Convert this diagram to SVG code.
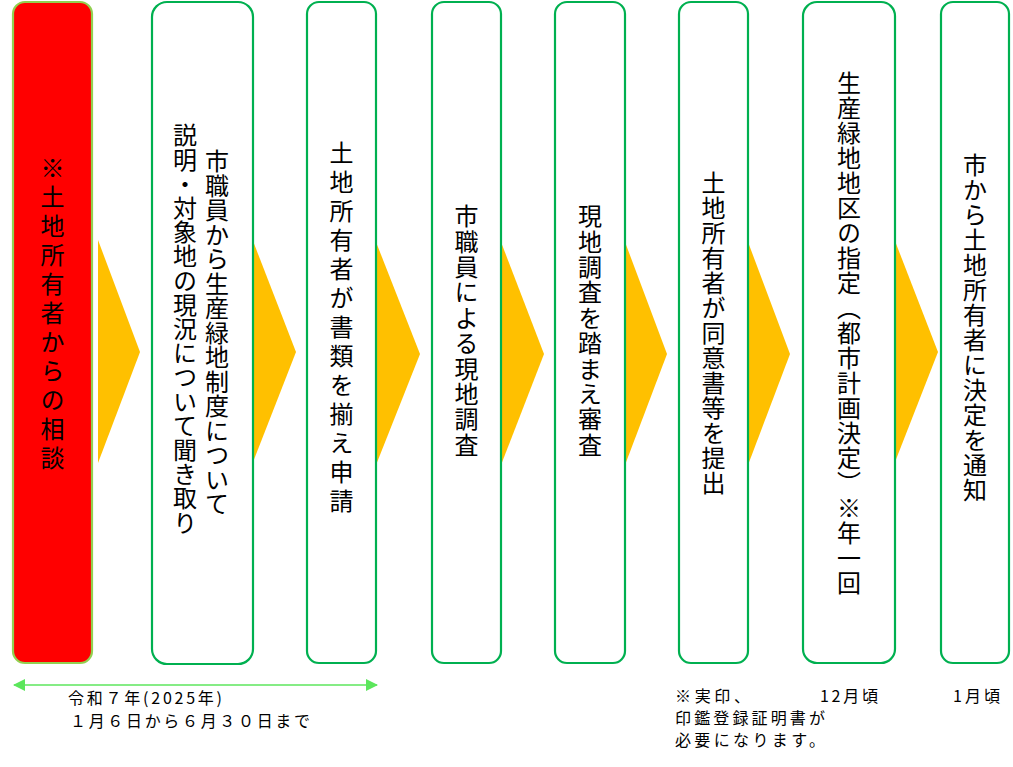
<svg xmlns="http://www.w3.org/2000/svg" width="1013" height="767" viewBox="0 0 1013 767">
<style>
.box{fill:#FFFFFF;stroke:#00B050;stroke-width:2.2}
.red{fill:#FF0000;stroke:#92D050;stroke-width:2.2}
.chev{fill:#FFC000;stroke:none}
.vt{font-family:"Noto Sans CJK JP","Noto Sans",sans-serif;font-size:24px;fill:#000;writing-mode:vertical-rl;text-anchor:middle}
.ht{font-family:"Noto Sans CJK JP","Noto Sans",sans-serif;font-size:16px;fill:#000}
</style>
<defs>
<marker id="ah" viewBox="0 0 12 12" refX="11" refY="6" markerWidth="12" markerHeight="12" markerUnits="userSpaceOnUse" orient="auto-start-reverse">
<path d="M0,0 L12,6 L0,12 z" fill="#5CE65C"/>
</marker>
</defs>
<g id="connectors">
<polygon class="chev" points="98,240 140,352 98,463"/>
<polygon class="chev" points="253,241 296,352 253,462"/>
<polygon class="chev" points="376,242 420,354 376,465"/>
<polygon class="chev" points="501,242 544,354 501,465"/>
<polygon class="chev" points="625,242 667,354 625,465"/>
<polygon class="chev" points="748,242 790,354 748,465"/>
<polygon class="chev" points="895,241 938,352 895,462"/>
<line x1="14" y1="685" x2="377" y2="685" stroke="#5CE65C" stroke-width="1.5" marker-start="url(#ah)" marker-end="url(#ah)"/>
</g>
<g id="n1">
<rect class="red" x="13" y="2" width="79" height="661" rx="12"/>
<text class="vt" x="52.5" y="315" style="letter-spacing:5px">※土地所有者からの相談</text>
</g>
<g id="n2">
<rect class="box" x="152" y="2" width="101" height="662" rx="15"/>
<text class="vt" x="217" y="333" style="letter-spacing:0.5px">市職員から生産緑地制度について</text>
<text class="vt" x="185" y="329" style="letter-spacing:0.2px">説明・対象地の現況について聞き取り</text>
</g>
<g id="n3">
<rect class="box" x="307" y="2" width="69" height="661" rx="12"/>
<text class="vt" x="341.5" y="329" style="letter-spacing:5px">土地所有者が書類を揃え申請</text>
</g>
<g id="n4">
<rect class="box" x="432" y="2" width="69" height="661" rx="12"/>
<text class="vt" x="466.5" y="331" style="letter-spacing:1.4px">市職員による現地調査</text>
</g>
<g id="n5">
<rect class="box" x="555" y="2" width="70" height="661" rx="12"/>
<text class="vt" x="590" y="331" style="letter-spacing:1.4px">現地調査を踏まえ審査</text>
</g>
<g id="n6">
<rect class="box" x="679" y="2" width="69" height="661" rx="12"/>
<text class="vt" x="713.5" y="333" style="letter-spacing:1px">土地所有者が同意書等を提出</text>
</g>
<g id="n7">
<rect class="box" x="803" y="2" width="92" height="661" rx="14"/>
<text class="vt" x="849" y="333" style="letter-spacing:1px">生産緑地地区の指定（都市計画決定）※年一回</text>
</g>
<g id="n8">
<rect class="box" x="941" y="2" width="68" height="661" rx="12"/>
<text class="vt" x="975" y="328" style="letter-spacing:1px">市から土地所有者に決定を通知</text>
</g>
<g id="notes">
<text class="ht" x="68" y="704" textLength="154" lengthAdjust="spacing">令和７年(2025年)</text>
<text class="ht" x="70" y="727" textLength="240" lengthAdjust="spacing">１月６日から６月３０日まで</text>
<text class="ht" x="675" y="702" textLength="75" lengthAdjust="spacing">※実印、</text>
<text class="ht" x="675" y="724" textLength="150" lengthAdjust="spacing">印鑑登録証明書が</text>
<text class="ht" x="675" y="746" textLength="150" lengthAdjust="spacing">必要になります。</text>
<text class="ht" x="820" y="702" textLength="58" lengthAdjust="spacing">12月頃</text>
<text class="ht" x="953" y="702" textLength="47" lengthAdjust="spacing">1月頃</text>
</g>
</svg>
